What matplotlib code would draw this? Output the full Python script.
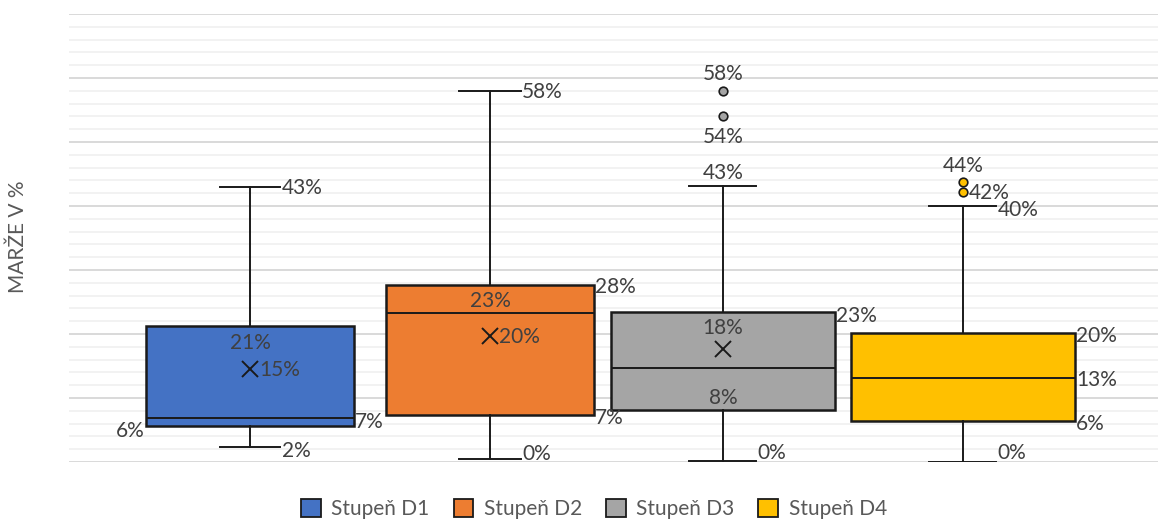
import matplotlib
matplotlib.use("Agg")
import matplotlib.pyplot as plt
from matplotlib.patches import Patch
from matplotlib.ticker import MultipleLocator, NullFormatter

plt.rcParams['font.family'] = ['Lato', 'DejaVu Sans']

# ---- data (margins in %) ----
series = ["Stupeň D1", "Stupeň D2", "Stupeň D3", "Stupeň D4"]
colors = ["#4472C4", "#ED7D31", "#A5A5A5", "#FFC000"]

whislo = [2.3, 0.4, 0.2, 0.05]
q1 = [5.6, 7.4, 8.1, 6.4]
med = [6.9, 23.3, 14.7, 13.2]
q3 = [21.2, 27.7, 23.4, 20.1]
whishi = [43.0, 58.0, 43.2, 40.0]
means = [14.6, 19.7, 17.6, None]
fliers = [[], [], [58.0, 54.1], [43.8, 42.2]]

y_label = "MARŽE V %"

# ---- layout ----
positions = [1.0, 2.0, 2.97, 3.97]
box_widths = [0.867, 0.8625, 0.933, 0.933]
cap_widths = [0.25, 0.258, 0.28, 0.28]

# data label placement: (statistic, anchor, dx px, dy px)
label_layout = [
    [("whishi", "cap_r", 2, 0), ("q3", "mid", 0, -15), ("mean", "mid", 9, 0),
     ("q1", "box_l", -1, -3), ("med", "box_r", 1, -3), ("whislo", "cap_r", 2, -2)],
    [("whishi", "cap_r", 1, 0), ("q3", "box_r", 1, -1), ("med", "mid", 0, 13),
     ("mean", "mid", 9, 0), ("q1", "box_r", 1, -2), ("whislo", "cap_r", 1, 7)],
    [("flier0", "mid", 0, 18), ("flier1", "mid", 0, -20), ("whishi", "mid", 0, 14),
     ("q3", "box_r", 1, -2), ("mean", "mid", 0, 23), ("q1", "mid", 0, 14),
     ("whislo", "cap_r", 1, 9)],
    [("flier0", "mid", 0, 17), ("flier1", "mid", 6, 0), ("whishi", "cap_r", 1, -3),
     ("q3", "box_r", 1, -1), ("med", "box_r", 1, -1), ("q1", "box_r", 1, -1),
     ("whislo", "cap_r", 1, 10)],
]

FS = 15
LABEL_COLOR = "#404040"
EDGE = "#1a1a1a"

fig = plt.figure(figsize=(11.61, 5.19), dpi=100)
ax = fig.add_axes([69 / 1161, 57 / 519, 1089 / 1161, 448 / 519])

stats = []
for i in range(len(series)):
    stats.append(dict(label=series[i], whislo=whislo[i], q1=q1[i], med=med[i],
                      q3=q3[i], whishi=whishi[i], fliers=fliers[i]))

bp = ax.bxp(stats, positions=positions, widths=box_widths, capwidths=cap_widths,
            patch_artist=True, showmeans=False, showfliers=True,
            boxprops=dict(edgecolor=EDGE, linewidth=1.8),
            medianprops=dict(color=EDGE, linewidth=1.4),
            whiskerprops=dict(color=EDGE, linewidth=1.4),
            capprops=dict(color=EDGE, linewidth=1.4),
            flierprops=dict(marker='o', markersize=6.2, markeredgecolor=EDGE,
                            markeredgewidth=1.2))
for patch, c in zip(bp['boxes'], colors):
    patch.set_facecolor(c)
for fl, c in zip(bp['fliers'], colors):
    fl.set_markerfacecolor(c)

for i, m in enumerate(means):
    if m is not None:
        ax.plot([positions[i]], [m], marker='x', markersize=12, mew=1.4,
                color=EDGE, zorder=5)

# data labels
half_cap = 0.72 * FS * 100 / 72 / 2
for i, specs in enumerate(label_layout):
    values = dict(whislo=whislo[i], q1=q1[i], med=med[i], q3=q3[i],
                  whishi=whishi[i], mean=means[i])
    for k, v in enumerate(fliers[i]):
        values[f"flier{k}"] = v
    for stat, anchor, dx, dy in specs:
        v = values[stat]
        p = positions[i]
        if anchor == "mid":
            x = p
        elif anchor == "box_l":
            x = p - box_widths[i] / 2
        elif anchor == "box_r":
            x = p + box_widths[i] / 2
        else:
            x = p + cap_widths[i] / 2
        if anchor == "box_l":
            ha = "right"
        elif anchor == "mid" and dx == 0:
            ha = "center"
        else:
            ha = "left"
        ax.annotate(f"{round(v)}%", xy=(x, v), xytext=(dx, dy - half_cap),
                    textcoords="offset pixels", ha=ha, va="baseline",
                    fontsize=FS, color=LABEL_COLOR, zorder=6)

ax.set_xlim(0.246, 4.783)
ax.set_ylim(0, 70)
ax.yaxis.set_major_locator(MultipleLocator(10))
ax.yaxis.set_minor_locator(MultipleLocator(2))
ax.yaxis.set_major_formatter(NullFormatter())
ax.tick_params(axis='both', which='both', length=0, labelbottom=False, labelleft=False)
ax.grid(True, which='major', axis='y', color='#d9d9d9', linewidth=1.4)
ax.grid(True, which='minor', axis='y', color='#f0f0f0', linewidth=1.2)
ax.set_axisbelow(True)
for s in ax.spines.values():
    s.set_visible(False)

fig.text(18 / 1161, 1 - 237 / 519, y_label, rotation=90, ha='center', va='center',
         fontsize=FS, color='#595959')

handles = [Patch(facecolor=c, edgecolor=EDGE, linewidth=1.3, label=s)
           for s, c in zip(series, colors)]
fig.legend(handles=handles, loc='center', bbox_to_anchor=(594 / 1161, 1 - 509 / 519),
           ncol=4, frameon=False, fontsize=FS, handlelength=0.95, handleheight=0.95,
           handletextpad=0.5, columnspacing=1.15, labelcolor='#595959')

fig.savefig("out.png", dpi=100)
